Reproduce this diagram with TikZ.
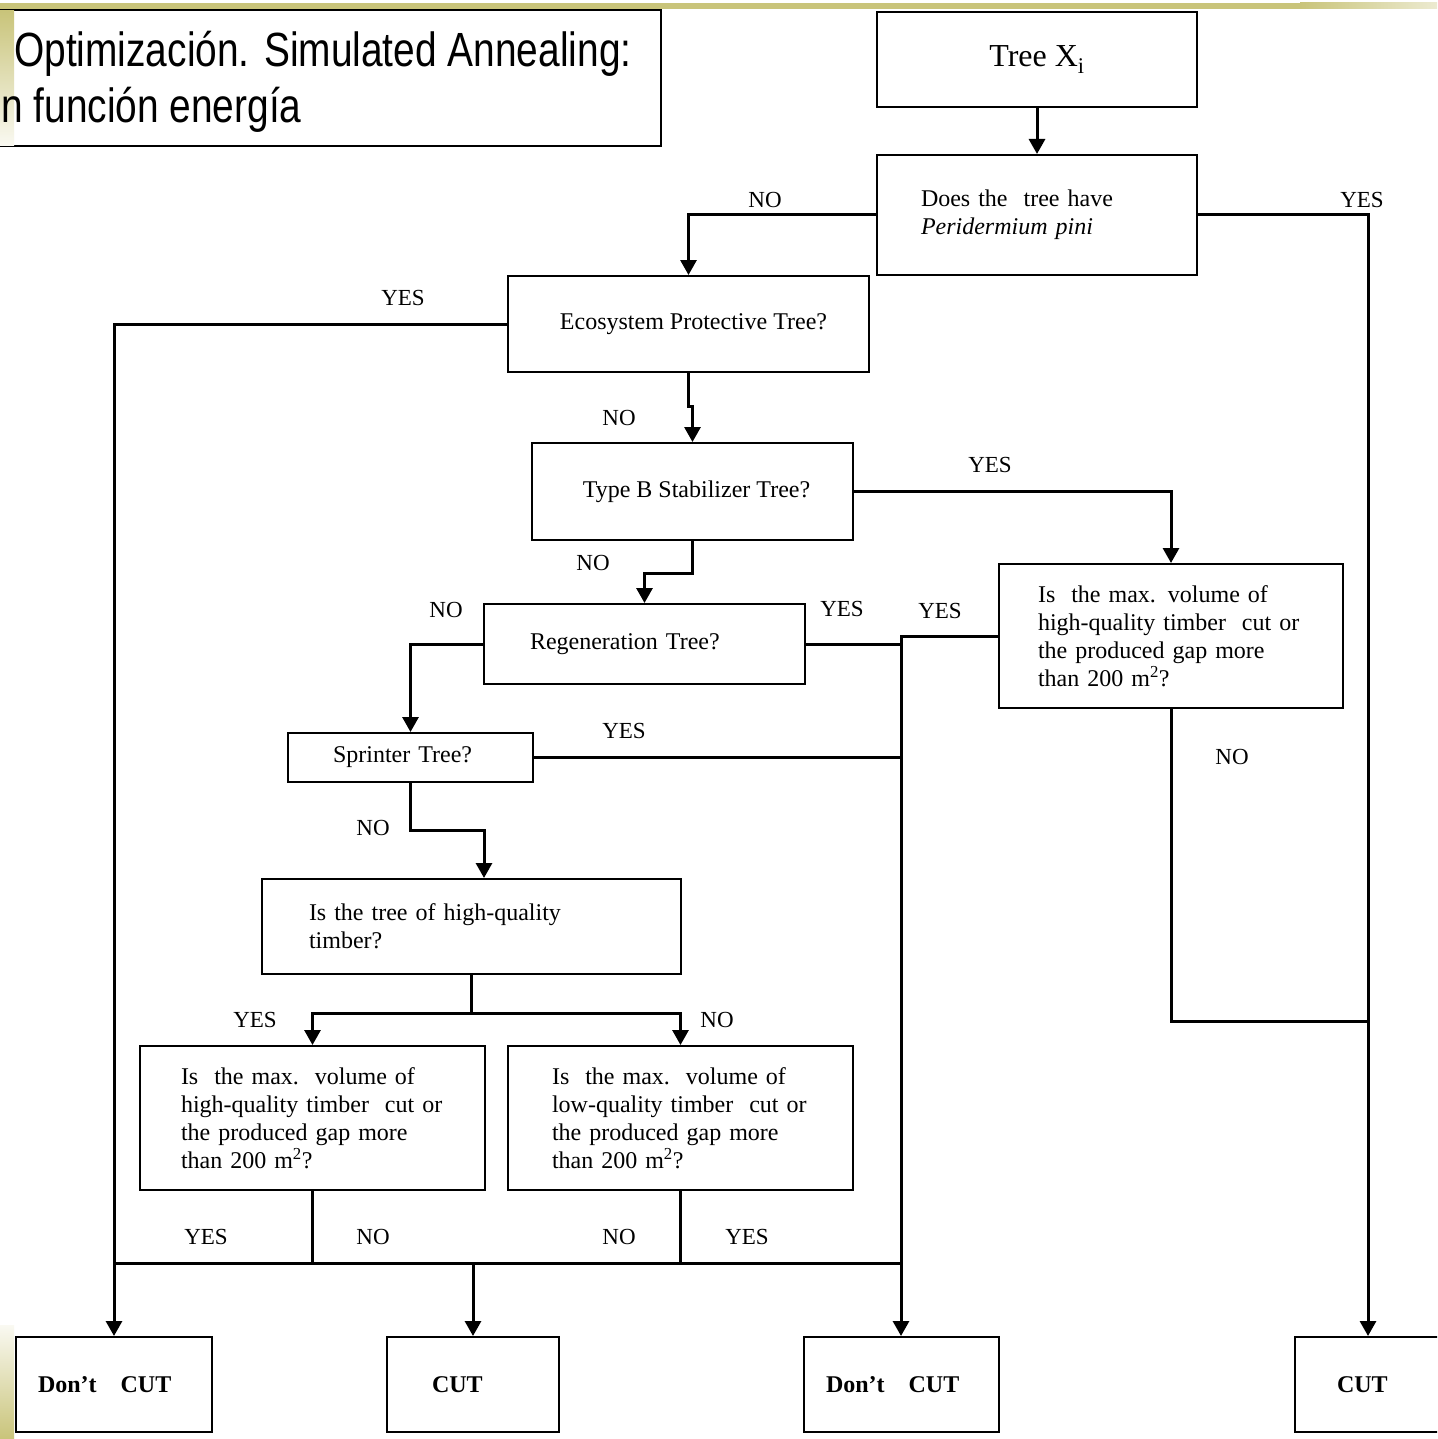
\documentclass[tikz,border=0pt]{standalone}
\usepackage{fontspec}
\setmainfont{Liberation Serif}
\newfontfamily\titlefont[FakeStretch=0.81]{Liberation Sans}
\usetikzlibrary{arrows.meta}
\definecolor{barolive}{RGB}{201,196,122}
\begin{document}
\begin{tikzpicture}[x=1pt,y=-1pt,
  box/.style={draw, line width=2pt, inner sep=0pt, font=\fontsize{24}{28}\selectfont, align=left},
  cbox/.style={box, align=center},
  endbox/.style={box, font=\fontsize{24}{28}\selectfont\bfseries, minimum height=95pt},
  conn/.style={line width=3pt},
  arr/.style={conn, -{Triangle[width=16pt,length=15pt]}},
  lbl/.style={font=\fontsize{23}{26}\selectfont, inner sep=0pt},
  ttl/.style={anchor=base west, inner sep=0pt, font=\titlefont\fontsize{48}{56}\selectfont}]
\useasboundingbox (0,0) rectangle (1437,1439);
\clip (0,0) rectangle (1437,1439);
\fill[white] (0,0) rectangle (1437,1439);
% decorative bars
\fill[barolive] (0,3) rectangle (1300,9);
\shade[left color=barolive, right color=barolive!35] (1300,3) rectangle (1437,9);
% title
\draw[line width=1.5pt] (-5,10) rectangle (661,146);
\shade[top color=barolive, bottom color=barolive!10] (0,11) rectangle (14,146);
\shade[top color=barolive!10, bottom color=barolive] (0,1325) rectangle (14,1439);
\node[ttl] (t1) at (14,67) {Optimización. Simulated Annealing:};
\node[ttl] (t2) at (1,123) {n función energía};
% boxes
\node[cbox, minimum width=320pt, minimum height=95pt, font=\fontsize{32}{36}\selectfont] (tree) at (1037,59.5) {\raisebox{3pt}{Tree X\textsubscript{i}}};
\node[box, minimum width=320pt, minimum height=120pt, text width=232pt] (does) at (1037,215) {Does the\ \ tree have\\\textit{Peridermium pini}};
\node[cbox, minimum width=361pt, minimum height=96pt] (eco) at (688.5,324) {\hspace*{10pt}\raisebox{3pt}{Ecosystem Protective Tree?}};
\node[cbox, minimum width=321pt, minimum height=97pt] (typeb) at (692.5,491.5) {\hspace*{8pt}\raisebox{4pt}{Type B Stabilizer Tree?}};
\node[box, minimum width=344pt, minimum height=144pt, text width=266pt] (ismaxr) at (1171,636) {Is\ \ the max. volume of\\high-quality timber\ \ cut or\\the produced gap more\\than 200 m\textsuperscript{2}?};
\node[box, minimum width=321pt, minimum height=80pt, text width=229pt] (regen) at (644.5,644) {\raisebox{-8pt}{Regeneration Tree?}};
\node[box, minimum width=245pt, minimum height=49pt, text width=155pt] (sprinter) at (410.5,757.5) {\raisebox{-2pt}{Sprinter Tree?}};
\node[box, minimum width=419pt, minimum height=95pt, text width=325pt] (hq) at (471.5,926.5) {Is the tree of high-quality\\timber?};
\node[box, minimum width=345pt, minimum height=144pt, text width=263pt] (ismaxl) at (312.5,1118) {Is\ \ the max.\ \ volume of\\high-quality timber\ \ cut or\\the produced gap more\\than 200 m\textsuperscript{2}?};
\node[box, minimum width=345pt, minimum height=144pt, text width=257pt] (ismaxlow) at (680.5,1118) {Is\ \ the max.\ \ volume of\\low-quality timber\ \ cut or\\the produced gap more\\than 200 m\textsuperscript{2}?};
\node[endbox, minimum width=196pt, text width=152pt] (dc1) at (114,1384.5) {Don’t\ \ \ CUT};
\node[endbox, minimum width=172pt, text width=82pt] (cut2) at (473,1384.5) {CUT};
\node[endbox, minimum width=195pt, text width=150pt] (dc3) at (901,1384.5) {Don’t\ \ \ CUT};
\node[endbox, minimum width=146pt, text width=62pt] (cut4) at (1368,1384.5) {CUT};
% connectors
\draw[arr] (tree) -- (does);
\draw[arr] (does.west) -| (eco.north);
\draw[arr] (does.east) -| (cut4.north);
\draw[arr] (eco.west) -| (dc1.north);
\draw[arr] (eco.south) -- ++(0,33) -| (typeb.north);
\draw[arr] (typeb.east) -| (ismaxr.north);
\draw[arr] (typeb.south) -- ++(0,32) -| (regen.north);
\coordinate (j1) at (ismaxr.west -| dc3.north);
\draw[arr] (ismaxr.west) -- (j1) -- (dc3.north);
\draw[conn] (regen.east) -- (regen.east -| j1);
\draw[arr] (regen.west) -| (sprinter.north);
\draw[conn] (sprinter.east) -- (sprinter.east -| j1);
\draw[arr] (sprinter.south) -- ++(0,47) -| ([xshift=12.5pt]hq.north);
\draw[conn] (hq.south) -- ++(0,38) coordinate (hqs);
\draw[arr] (hqs) -| (ismaxl.north);
\draw[arr] (hqs) -| (ismaxlow.north);
\draw[conn] (ismaxl.south) -- (ismaxl.south |- 0,1263);
\draw[conn] (ismaxlow.south) -- (ismaxlow.south |- 0,1263);
\draw[conn] (dc1.north |- 0,1263) -- (j1 |- 0,1263);
\draw[arr] (cut2.north |- 0,1263) -- (cut2.north);
\draw[conn] (ismaxr.south) |- (cut4.north |- 0,1021);
% labels
\node[lbl] (l1) at (765,200) {NO};
\node[lbl] (l2) at (1362,200) {YES};
\node[lbl] (l3) at (403,298) {YES};
\node[lbl] (l4) at (619,418) {NO};
\node[lbl] (l5) at (990,465) {YES};
\node[lbl] (l6) at (593,563) {NO};
\node[lbl] (l7) at (446,610) {NO};
\node[lbl] (l8) at (842,609) {YES};
\node[lbl] (l9) at (940,611) {YES};
\node[lbl] (l10) at (624,731) {YES};
\node[lbl] (l11) at (373,828) {NO};
\node[lbl] (l12) at (1232,757) {NO};
\node[lbl] (l13) at (255,1020) {YES};
\node[lbl] (l14) at (717,1020) {NO};
\node[lbl] (l15) at (206,1237) {YES};
\node[lbl] (l16) at (373,1237) {NO};
\node[lbl] (l17) at (619,1237) {NO};
\node[lbl] (l18) at (747,1237) {YES};
\end{tikzpicture}
\end{document}
